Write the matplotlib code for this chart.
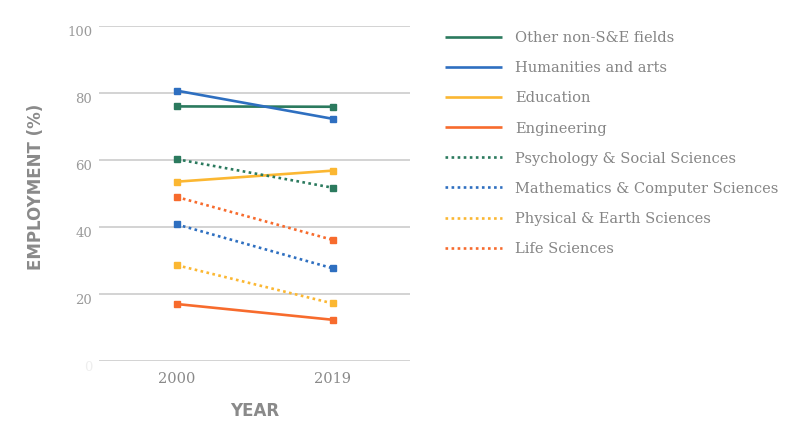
import matplotlib
matplotlib.use("Agg")
import matplotlib.pyplot as plt
from matplotlib.lines import Line2D

years = ["2000", "2019"]
series_names = [
    "Other non-S&E fields",
    "Humanities and arts",
    "Education",
    "Engineering",
    "Psychology & Social Sciences",
    "Mathematics & Computer Sciences",
    "Physical & Earth Sciences",
    "Life Sciences",
]
other_non_se = [76.0, 75.9]
humanities = [80.7, 72.3]
education = [53.5, 56.8]
engineering = [16.9, 12.2]
psychology = [60.2, 51.7]
math_cs = [40.7, 27.6]
physical = [28.5, 17.1]
life = [48.9, 36.1]
values = [other_non_se, humanities, education, engineering,
          psychology, math_cs, physical, life]
colors = ["#2b7a5e", "#2e6fc0", "#fbb732", "#f76b2d",
          "#2b7a5e", "#2e6fc0", "#fbb732", "#f76b2d"]
dotted = [False, False, False, False, True, True, True, True]
yticks = [0, 20, 40, 60, 80, 100]

fig = plt.figure(figsize=(8, 4.36), dpi=100)
ax = fig.add_axes([0.124, 0.173, 0.389, 0.767])

x = list(range(len(years)))
handles = []
for name, vals, c, d in zip(series_names, values, colors, dotted):
    ls = (0, (1, 1.3)) if d else "-"
    ax.plot(x, vals, color=c, lw=1.9, linestyle=ls,
            marker="s", markersize=3.8, zorder=3,
            solid_capstyle="butt", dash_capstyle="butt")
    handles.append(Line2D([], [], color=c, lw=1.9, linestyle=ls,
                          solid_capstyle="butt", dash_capstyle="butt"))

ax.set_xlim(-0.5, 1.5)
ax.set_ylim(0, 100)
ax.set_xticks(x)
ax.set_xticklabels(years, family="DejaVu Serif", fontsize=10.5, color="#8a8a8a")
ax.set_yticks(yticks)
ax.set_yticklabels([str(t) for t in yticks], family="DejaVu Serif", fontsize=9.5, color="#9a9a9a")
ax.get_yticklabels()[0].set_color("#eeeeee")
ax.tick_params(axis="both", length=0)
ax.tick_params(axis="x", pad=8)
ax.tick_params(axis="y", pad=5)
for lab in ax.get_yticklabels():
    lab.set_va("top")
for s in ax.spines.values():
    s.set_visible(False)
ax.grid(axis="y", color="#cccccc", lw=1.2, zorder=0)
ax.set_axisbelow(True)

ax.set_ylabel("EMPLOYMENT (%)", family="DejaVu Sans", fontweight="bold",
              fontsize=12, color="#8a8a8a")
ax.yaxis.set_label_coords(-0.175, 0.52)
ax.set_xlabel("YEAR", family="DejaVu Sans", fontweight="bold",
              fontsize=12, color="#8a8a8a", labelpad=12)

leg = fig.legend(handles, series_names, loc="upper left",
                 bbox_to_anchor=(0.556, 0.928), frameon=False,
                 prop={"family": "DejaVu Serif", "size": 10.5},
                 handlelength=3.9, handletextpad=0.9,
                 labelspacing=1.1, borderpad=0, borderaxespad=0)
for t in leg.get_texts():
    t.set_color("#858585")

fig.savefig("out.png", dpi=100)
